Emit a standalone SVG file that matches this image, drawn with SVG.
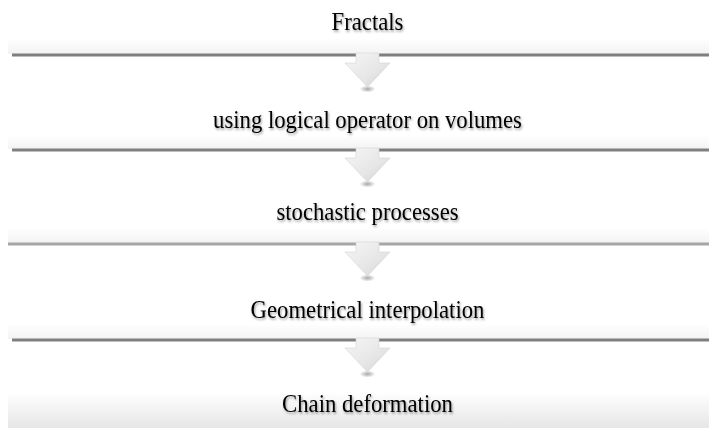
<svg xmlns="http://www.w3.org/2000/svg" width="709" height="428" viewBox="0 0 709 428">
  <defs>
    <linearGradient id="band" x1="0" y1="0" x2="0" y2="1">
      <stop offset="0" stop-color="#fefefe"/>
      <stop offset="1" stop-color="#f3f3f3"/>
    </linearGradient>
    <linearGradient id="bottomBand" x1="0" y1="0" x2="0" y2="1">
      <stop offset="0" stop-color="#ffffff"/>
      <stop offset="1" stop-color="#e6e6e6"/>
    </linearGradient>
    <linearGradient id="arrowFill" x1="0" y1="0" x2="1" y2="1">
      <stop offset="0" stop-color="#f6f6f6"/>
      <stop offset="0.6" stop-color="#e6e6e6"/>
      <stop offset="1" stop-color="#d0d0d0"/>
    </linearGradient>
    <radialGradient id="tipShadow" cx="0.5" cy="0.5" r="0.5">
      <stop offset="0" stop-color="#000" stop-opacity="0.35"/>
      <stop offset="1" stop-color="#000" stop-opacity="0"/>
    </radialGradient>
    <filter id="txtShadow" x="-10%" y="-30%" width="120%" height="160%">
      <feDropShadow dx="1" dy="1.5" stdDeviation="1" flood-color="#000" flood-opacity="0.4"/>
    </filter>
    <g id="arrow">
      <ellipse cx="0" cy="35" rx="8" ry="3.5" fill="url(#tipShadow)"/>
      <path d="M-11.5,-1 L11.5,-1 L11.5,9 L22.5,9 L0,33 L-22.5,9 L-11.5,9 Z" fill="url(#arrowFill)" stroke="#d4d4d4" stroke-width="0.6"/>
    </g>
  </defs>
  <style>
    .lbl { font-family: "Liberation Serif", "Times New Roman", serif; font-size: 22.7px; fill: #000; text-anchor: middle; filter: url(#txtShadow); }
    .band { fill: url(#band); }
  </style>
  <rect width="709" height="428" fill="#ffffff"/>

  <g id="node1">
    <rect class="band" x="8" y="39" width="701" height="15"/>
    <rect x="12" y="53.5" width="697" height="3" fill="#7f7f7f"/>
    <text class="lbl" transform="translate(367.5,30) scale(1,1.12)">Fractals</text>
  </g>
  <g id="node2">
    <rect class="band" x="8" y="136" width="701" height="13"/>
    <rect x="12" y="148.5" width="697" height="3" fill="#808080"/>
    <text class="lbl" transform="translate(367.5,127.5) scale(1,1.12)">using logical operator on volumes</text>
  </g>
  <g id="node3">
    <rect class="band" x="8" y="229" width="701" height="14"/>
    <rect x="8" y="242.5" width="701" height="3" fill="#a6a6a6"/>
    <text class="lbl" transform="translate(367.5,220) scale(1,1.12)">stochastic processes</text>
  </g>
  <g id="node4">
    <rect class="band" x="8" y="325" width="701" height="14"/>
    <rect x="12" y="338.5" width="697" height="3" fill="#7f7f7f"/>
    <text class="lbl" transform="translate(367.5,317.5) scale(1,1.12)">Geometrical interpolation</text>
  </g>
  <g id="node5">
    <rect x="8" y="392" width="701" height="36" fill="url(#bottomBand)"/>
    <text class="lbl" transform="translate(367.5,412) scale(1,1.12)">Chain deformation</text>
  </g>

  <g id="connectors">
    <use href="#arrow" x="367.5" y="54"/>
    <use href="#arrow" x="367.5" y="149"/>
    <use href="#arrow" x="367.5" y="243"/>
    <use href="#arrow" x="367.5" y="339"/>
  </g>
</svg>
